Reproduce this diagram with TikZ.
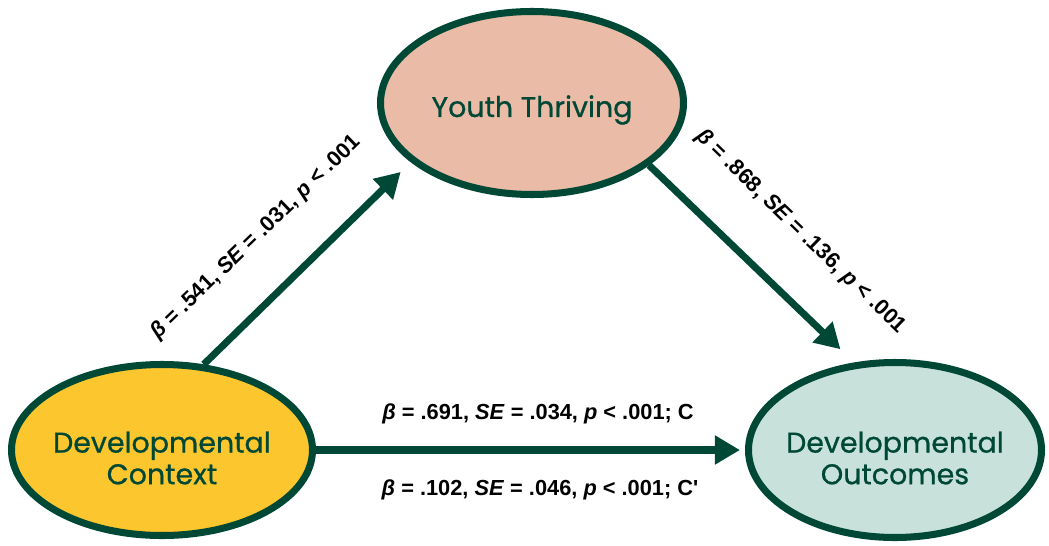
\documentclass[tikz,border=0pt]{standalone}
\usepackage{fontspec}
\setmainfont{Liberation Sans}
\newfontfamily\ovalfont[FakeBold=0.8]{Poppins}
\usetikzlibrary{shapes.geometric, arrows.meta}
\definecolor{dkgreen}{RGB}{0,72,54}
\definecolor{sun}{RGB}{252,198,46}
\definecolor{peach}{RGB}{234,187,166}
\definecolor{mint}{RGB}{200,226,219}
\tikzset{>={Triangle[length=0.5cm,width=0.55cm]},
  oval/.style={ellipse, draw=dkgreen, line width=4pt, inner sep=0pt},
  ovaltext/.style={align=center, text=dkgreen, font=\ovalfont\fontsize{16.2}{18}\selectfont},
  link/.style={->, draw=dkgreen, line width=4pt},
  est/.style={font=\bfseries\fontsize{12.4}{14}\selectfont}}

\begin{document}
\begin{tikzpicture}
    \useasboundingbox (0,0) rectangle (20.98,10.9);
    \node[oval, fill=sun, minimum width=6.02cm, minimum height=3.42cm] (DC) at (3.24,1.9) {};
    \node[oval, fill=peach, minimum width=6.06cm, minimum height=3.66cm] (YT) at (10.64,8.84) {};
    \node[oval, fill=mint, minimum width=5.86cm, minimum height=3.5cm] (DO) at (17.9,1.9) {};
    \node[ovaltext] (DCt) at ([yshift=-0.16cm]DC) {Developmental\\Context};
    \node[ovaltext] (YTt) at ([yshift=-0.14cm]YT) {Youth Thriving};
    \node[ovaltext] (DOt) at ([yshift=-0.16cm]DO) {Developmental\\Outcomes};
    \draw[link, shorten >=0.28cm] (DC.64) -- (YT.206);
    \draw[link, shorten >=0.38cm] (YT.-28) -- (DO.115);
    \draw[link, shorten >=0.1cm] (DC) -- (DO);
    \node[est, rotate=44] (ab) at (5.12,6.15) {\textit{β} = .541, \textit{SE} = .031, \textit{p} < .001};
    \node[est, rotate=-44] (bc) at (16.02,6.26) {\textit{β} = .868, \textit{SE} = .136, \textit{p} < .001};
    \node[est] (c) at (10.76,2.62) {\textit{β} = .691, \textit{SE} = .034, \textit{p} < .001; C};
    \node[est] (cp) at (10.8,1.1) {\textit{β} = .102, \textit{SE} = .046, \textit{p} < .001; C\textquotesingle};
\end{tikzpicture}
\end{document}
